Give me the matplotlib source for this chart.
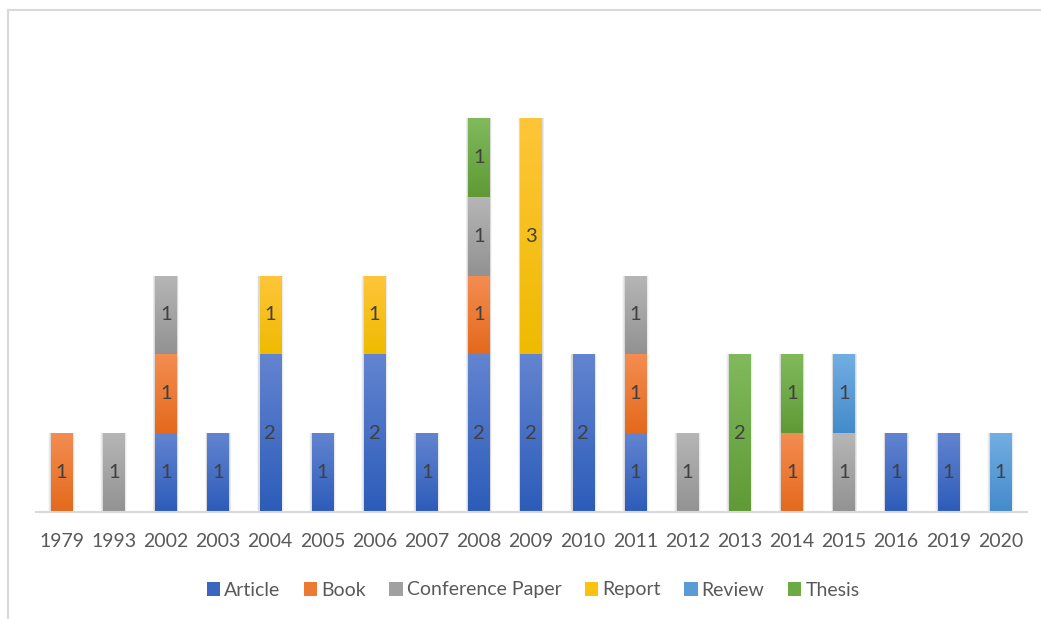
import numpy as np
import matplotlib
matplotlib.use("Agg")
import matplotlib.pyplot as plt
from matplotlib.patches import Patch
from matplotlib.colors import LinearSegmentedColormap

years = ["1979", "1993", "2002", "2003", "2004", "2005", "2006", "2007", "2008", "2009",
         "2010", "2011", "2012", "2013", "2014", "2015", "2016", "2019", "2020"]

series_names = ["Article", "Book", "Conference Paper", "Report", "Review", "Thesis"]
article    = [0, 0, 1, 1, 2, 1, 2, 1, 2, 2, 2, 1, 0, 0, 0, 0, 1, 1, 0]
book       = [1, 0, 1, 0, 0, 0, 0, 0, 1, 0, 0, 1, 0, 0, 1, 0, 0, 0, 0]
conference = [0, 1, 1, 0, 0, 0, 0, 0, 1, 0, 0, 1, 1, 0, 0, 1, 0, 0, 0]
report     = [0, 0, 0, 0, 1, 0, 1, 0, 0, 3, 0, 0, 0, 0, 0, 0, 0, 0, 0]
review     = [0, 0, 0, 0, 0, 0, 0, 0, 0, 0, 0, 0, 0, 0, 0, 1, 0, 0, 1]
thesis     = [0, 0, 0, 0, 0, 0, 0, 0, 1, 0, 0, 0, 0, 2, 1, 0, 0, 0, 0]
series_values = [article, book, conference, report, review, thesis]

# (top, bottom) colours of each gradient fill, plus flat legend colour
grad_colors = [
    ("#6384d0", "#2c5cb9"),
    ("#f48d52", "#e4691c"),
    ("#b6b6b6", "#929292"),
    ("#ffc53a", "#eebb00"),
    ("#72aee2", "#438bcb"),
    ("#80ba5c", "#5f9a36"),
]
legend_colors = ["#3a66c0", "#ec7a33", "#a0a0a0", "#fcc30e", "#5b9bd5", "#6daa45"]

plt.rcParams["font.family"] = ["Lato", "DejaVu Sans"]

W, H = 1041, 619
fig = plt.figure(figsize=(W / 100, H / 100), dpi=100)
ax = fig.add_axes([35.5 / W, (H - 512) / H, (1026.6 - 35.5) / W, (512 - 39) / H])

x = np.arange(len(years))
bar_w = 0.41
bottom = np.zeros(len(years))

grad = np.linspace(0, 1, 256).reshape(-1, 1)

for name, vals, (ctop, cbot) in zip(series_names, series_values, grad_colors):
    vals = np.array(vals, dtype=float)
    mask = vals > 0
    # soft shadow behind the segments
    for pad, a in [(0.10, 0.03), (0.07, 0.05), (0.04, 0.07)]:
        ax.bar(x[mask], vals[mask], bar_w + pad, bottom=bottom[mask],
               color="#000000", alpha=a, linewidth=0, zorder=1)
    bars = ax.bar(x, vals, bar_w, bottom=bottom, color=cbot, linewidth=0, zorder=2)
    cmap = LinearSegmentedColormap.from_list(name, [cbot, ctop])
    for rect, v in zip(bars, vals):
        if v <= 0:
            continue
        x0, y0 = rect.get_x(), rect.get_y()
        w, h = rect.get_width(), rect.get_height()
        im = ax.imshow(grad, cmap=cmap, origin="lower", aspect="auto",
                       extent=(x0, x0 + w, y0, y0 + h), zorder=3, interpolation="bilinear")
        im.set_clip_path(rect)
        ax.text(x0 + w / 2, y0 + h / 2, f"{int(v)}", ha="center", va="center",
                fontsize=14.5, color="#404040", zorder=4)
    bottom += vals

ax.set_xlim(-0.5, len(years) - 0.5)
ax.set_ylim(0, 6)
for s in ["top", "right", "left"]:
    ax.spines[s].set_visible(False)
ax.spines["bottom"].set_color("#d9d9d9")
ax.spines["bottom"].set_linewidth(1.5)
ax.spines["bottom"].set_zorder(5)
ax.set_yticks([])
ax.set_xticks(x)
ax.set_xticklabels(years, fontsize=14, color="#595959")
ax.tick_params(axis="x", length=0, pad=15)

handles = [Patch(facecolor=c, edgecolor="none") for c in legend_colors]
fig.legend(handles, series_names, loc="center", bbox_to_anchor=(533 / W, (H - 590) / H),
           ncol=6, frameon=False, fontsize=14, handlelength=0.7, handleheight=0.7,
           handletextpad=0.2, columnspacing=1.2, labelcolor="#595959")

# chart frame (left and top edges)
fig.add_artist(plt.Line2D([7.5 / W, 7.5 / W], [0, (H - 10) / H], color="#d9d9d9", lw=1.5,
                          transform=fig.transFigure))
fig.add_artist(plt.Line2D([7.5 / W, 1], [(H - 10) / H, (H - 10) / H], color="#d9d9d9", lw=1.5,
                          transform=fig.transFigure))

fig.savefig("out.png", dpi=100)
